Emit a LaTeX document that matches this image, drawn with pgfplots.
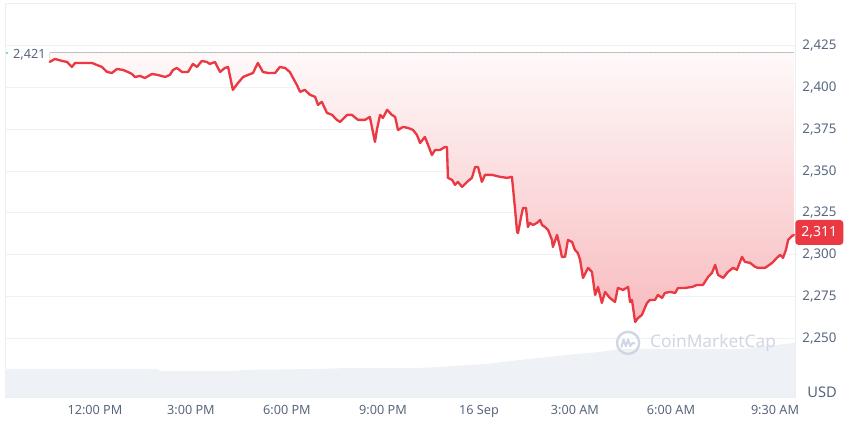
\documentclass[border=0pt]{standalone}
\usepackage{pgfplots}
\pgfplotsset{compat=1.18}
\usepgfplotslibrary{fillbetween}
\usepackage{fontspec}
\setmainfont{Noto Sans}
\definecolor{cmcred}{RGB}{234,57,67}
\definecolor{labgray}{RGB}{88,102,126}
\definecolor{gridc}{RGB}{239,241,244}
\definecolor{framec}{RGB}{236,238,242}
\definecolor{volc}{RGB}{238,241,245}
\definecolor{wm}{RGB}{207,214,228}
\definecolor{dotc}{RGB}{180,186,196}
\definecolor{cmcgreen}{RGB}{22,199,132}
\pgfplotstableread{
h v
10.59 2415.4
10.75 2417.2
10.97 2416.0
11.13 2415.4
11.28 2412.4
11.38 2414.8
11.59 2414.8
11.75 2414.8
11.91 2414.8
12.06 2413.6
12.22 2412.4
12.38 2409.4
12.53 2408.8
12.69 2411.2
12.88 2410.6
13.03 2409.4
13.16 2408.2
13.25 2406.4
13.41 2407.0
13.56 2405.8
13.78 2408.2
13.97 2407.6
14.19 2406.4
14.34 2407.6
14.44 2410.6
14.56 2411.8
14.72 2409.4
14.91 2409.4
15.06 2414.2
15.19 2412.4
15.34 2416.0
15.50 2415.4
15.59 2414.2
15.75 2415.4
15.91 2409.4
16.06 2411.8
16.16 2412.4
16.31 2398.7
16.47 2402.8
16.63 2406.4
16.78 2407.6
16.94 2408.8
17.09 2414.8
17.25 2409.4
17.41 2408.8
17.63 2408.8
17.78 2412.4
17.94 2411.8
18.09 2409.4
18.19 2405.8
18.31 2401.6
18.41 2397.5
18.56 2398.7
18.72 2395.7
18.88 2394.5
18.97 2389.7
19.09 2391.5
19.25 2384.9
19.41 2383.7
19.56 2380.7
19.66 2379.5
19.88 2383.7
20.03 2383.7
20.22 2380.7
20.44 2380.7
20.59 2382.5
20.75 2367.5
20.81 2374.7
20.91 2383.7
21.00 2381.9
21.13 2386.7
21.28 2383.7
21.38 2382.5
21.47 2374.7
21.63 2376.5
21.78 2375.9
21.94 2374.7
22.06 2371.7
22.16 2366.9
22.31 2370.5
22.41 2365.7
22.53 2359.7
22.63 2362.7
22.78 2362.7
22.94 2364.5
23.00 2364.5
23.03 2346.0
23.16 2344.8
23.25 2341.8
23.34 2343.6
23.47 2340.6
23.63 2343.6
23.78 2346.0
23.88 2352.5
23.97 2352.5
24.09 2343.6
24.19 2347.8
24.41 2347.8
24.66 2346.6
24.88 2346.0
25.03 2346.6
25.13 2326.8
25.19 2313.6
25.22 2313.0
25.28 2319.0
25.34 2325.0
25.38 2328.0
25.47 2328.0
25.53 2316.6
25.59 2319.0
25.69 2317.8
25.81 2319.0
25.91 2320.8
25.97 2317.8
26.06 2316.6
26.16 2314.8
26.28 2308.8
26.31 2304.6
26.44 2311.8
26.53 2304.6
26.59 2298.7
26.69 2298.7
26.78 2308.8
26.91 2307.6
27.00 2302.8
27.09 2301.0
27.16 2296.9
27.25 2286.1
27.41 2292.1
27.53 2289.7
27.63 2275.9
27.72 2280.7
27.84 2271.1
27.94 2277.7
28.09 2274.1
28.25 2271.7
28.34 2280.1
28.50 2278.9
28.66 2280.7
28.72 2271.7
28.78 2272.9
28.88 2259.7
28.97 2262.1
29.09 2263.9
29.25 2271.1
29.34 2272.9
29.50 2272.9
29.59 2275.9
29.72 2274.1
29.81 2277.1
29.97 2277.7
30.13 2277.1
30.22 2280.1
30.44 2280.1
30.66 2280.7
30.81 2281.9
31.00 2281.9
31.16 2286.7
31.28 2289.1
31.38 2293.9
31.47 2287.9
31.63 2286.1
31.78 2289.7
31.94 2292.1
32.06 2290.9
32.22 2298.7
32.31 2295.7
32.47 2295.1
32.63 2292.7
32.72 2292.1
32.94 2292.1
33.16 2295.1
33.31 2298.1
33.41 2299.9
33.50 2298.1
33.59 2302.8
33.66 2308.8
33.78 2311.2
33.84 2311.8
}\price
\begin{document}
\begin{tikzpicture}
\begin{axis}[
  name=ax,
  at={(0,0)}, anchor=south west,
  scale only axis, width=592.5pt, height=295.5pt,
  xmin=9.19, xmax=33.875, ymin=2214.8, ymax=2450.7,
  clip=false,
  axis line style={draw=framec},
  ymajorgrids, grid style={draw=gridc, line width=0.75pt},
  major tick length=0pt, tick style={draw=none},
  ytick={2250,2275,...,2425},
  yticklabel pos=right,
  /pgf/number format/assume math mode=true,
  /pgf/number format/1000 sep={,},
  yticklabel style={font=\fontsize{10}{11}\selectfont, text=labgray, xshift=2pt},
  xtick={12,15,18,21,24,27,30,33.25},
  xticklabels={12:00 PM,3:00 PM,6:00 PM,9:00 PM,16 Sep,3:00 AM,6:00 AM,9:30 AM},
  xticklabel style={font=\fontsize{9.5}{11}\selectfont, text=labgray, yshift=-3pt},
]
% volume (drawn in price units, background)
\addplot[draw=none, fill=volc] coordinates {
(9.19,2214.8) (9.19,2231.6) (13.94,2231.6) (14.03,2230.4) (16.47,2230.4) (16.59,2231.0)
(19.03,2231.6) (19.97,2232.2) (22.16,2232.2) (22.78,2232.8) (24.25,2234.6) (25.28,2237.0)
(25.91,2238.2) (26.75,2240.0) (27.78,2241.8) (28.41,2243.6) (32.16,2243.6) (32.78,2244.8)
(33.875,2247.2) (33.875,2214.8)};
\addplot[draw=none, name path=base] coordinates {(10.59,2421) (33.84,2421)};
\addplot[draw=none, name path=price] table[x=h, y=v] {\price};
\addplot[draw=none, top color=cmcred!3!white, bottom color=cmcred!34!white]
  fill between[of=price and base];
\addplot[draw=dotc, line width=0.9pt, dash pattern=on 0.9pt off 2.4pt] coordinates {(10.66,2421) (33.875,2421)};
\addplot[draw=cmcred, line width=1.75pt, line join=round, line cap=round] table[x=h, y=v] {\price};
% watermark
\draw[wm, line width=1.8pt] (axis cs:28.66,2247.2) circle[radius=8.3pt];
\draw[wm, line width=1.5pt, line join=round, line cap=round] (axis cs:28.66,2247.2)
  ++(-5pt,-3pt) -- ++(1.6pt,5.5pt) -- ++(1.7pt,-5pt) -- ++(1.7pt,5pt) -- ++(1.7pt,-5pt) -- ++(1.6pt,2.5pt) -- ++(1.6pt,-0.5pt);
\node[anchor=west, text=wm, font=\fontsize{13}{13}\selectfont\bfseries, inner sep=0pt] at (axis cs:29.34,2247.2) {CoinMarketCap};
\fill[cmcgreen!70!white] (axis cs:9.25,2420.8) circle[radius=0.9pt];
\node[text=labgray, font=\fontsize{9.5}{11}\selectfont, inner sep=1pt] at (axis cs:9.95,2419.6) {2,421};
\node[text=labgray, font=\fontsize{11}{12}\selectfont\bfseries] at (axis cs:34.72,2217.8) {USD};
\node[anchor=west, fill=cmcred, text=white, rounded corners=2.5pt, minimum width=36pt, minimum height=18.75pt, inner sep=0pt, font=\fontsize{10.5}{11}\selectfont\bfseries] at (axis cs:33.875,2313.3) {2,311};
\end{axis}
\pgfresetboundingbox
\useasboundingbox (-3.75pt,-19.5pt) rectangle (633.75pt,297.75pt);
\end{tikzpicture}
\end{document}
